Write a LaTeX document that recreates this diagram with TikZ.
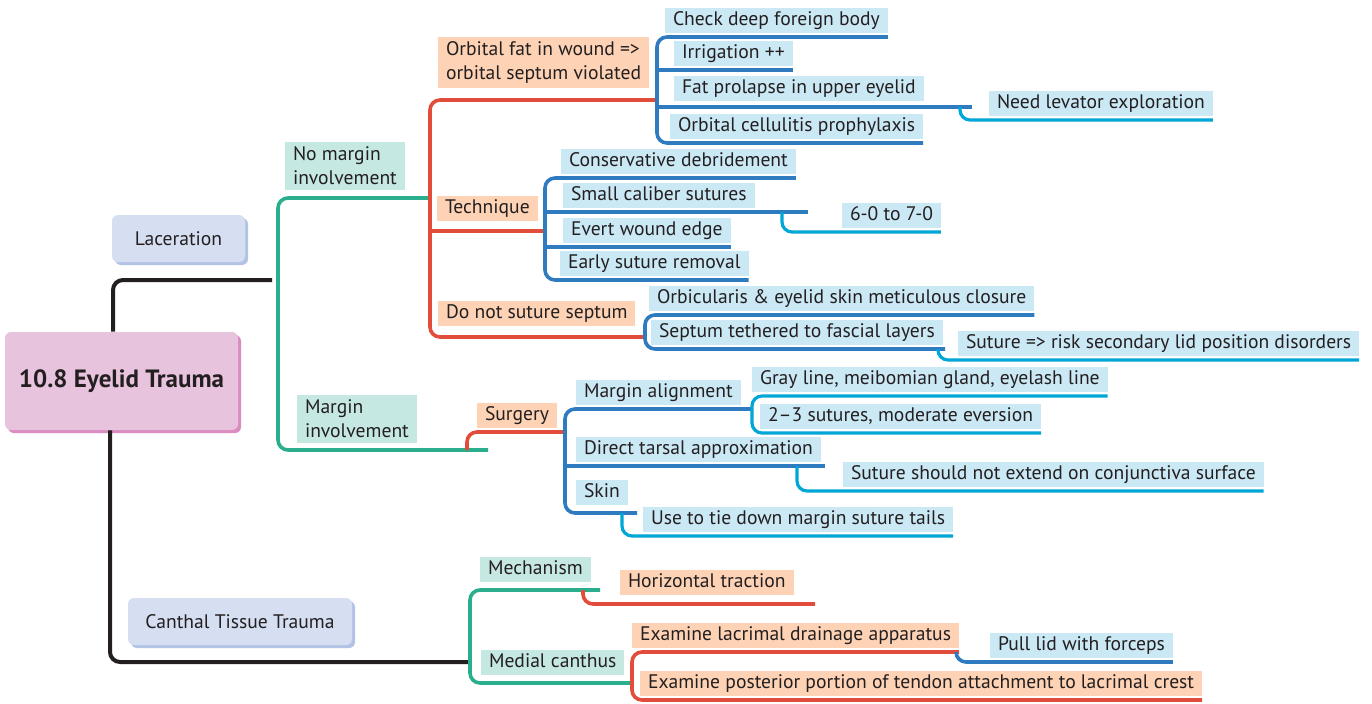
\documentclass[tikz,border=0pt]{standalone}
\usepackage{fontspec}
\setmainfont{PT Sans}
\usetikzlibrary{shadows}
\definecolor{ink}{HTML}{231F20}
\definecolor{grn}{HTML}{2BAE8D}
\definecolor{rdl}{HTML}{E14D3A}
\definecolor{blu}{HTML}{2F7BC0}
\definecolor{cyn}{HTML}{00A6D6}
\definecolor{fillb}{HTML}{CBE8F5}
\definecolor{fillp}{HTML}{FDD2B5}
\definecolor{fillt}{HTML}{C6E8E3}
\definecolor{rootf}{HTML}{E8C3DD}
\definecolor{rootsh}{HTML}{DA8CC0}
\definecolor{lavf}{HTML}{D6DFF1}
\definecolor{lavsh}{HTML}{B2C3E5}
\begin{document}
\begin{tikzpicture}[x=0.5pt,y=-0.5pt,font=\fontsize{9.8}{12}\selectfont,text=ink,
  lbl/.style={anchor=south west,inner xsep=4pt,inner ysep=1.25pt,outer xsep=0pt,outer ysep=2pt,text height=7.5pt,text depth=2.5pt},
  twoline/.style={anchor=south west,inner xsep=4pt,inner ysep=2.4pt,outer xsep=0pt,outer ysep=2pt,align=left},
  lb/.style={lbl,fill=fillb},
  lp/.style={lbl,fill=fillp},
  lt/.style={lbl,fill=fillt},
  topbox/.style={fill=lavf,rounded corners=3pt,minimum height=23.5pt,
    drop shadow={shadow xshift=1.5pt,shadow yshift=-1.5pt,fill=lavsh,opacity=1}},
  bk/.style={draw=ink,line width=2pt,rounded corners=5pt},
  gn/.style={draw=grn,line width=1.8pt,rounded corners=5pt},
  rd/.style={draw=rdl,line width=1.8pt,rounded corners=5pt},
  bl/.style={draw=blu,line width=1.8pt,rounded corners=5pt},
  cy/.style={draw=cyn,line width=1.6pt,rounded corners=5pt}]
  \useasboundingbox (0,0) rectangle (1372,703);

  % main topic and first level
  \node[fill=rootf,rounded corners=3pt,minimum width=116.5pt,minimum height=49pt,
    font=\fontsize{12.5}{14}\selectfont\bfseries,
    drop shadow={shadow xshift=1.5pt,shadow yshift=-1.5pt,fill=rootsh,opacity=1}]
    (root) at (121.5,381) {10.8 Eyelid Trauma};
  \node[topbox,minimum width=66.5pt] (lac) at (178.5,238.5) {Laceration};
  \node[topbox,minimum width=112pt] (cth) at (240,621.5) {Canthal Tissue Trauma};

  % second level
  \node[twoline,fill=fillt] (nomarg) at (285,194) {No margin\\involvement};
  \node[twoline,fill=fillt] (marg) at (297,447) {Margin\\involvement};
  \node[lt] (mech) at (480,586) {Mechanism};
  \node[lt] (medc) at (481,679) {Medial canthus};

  % third level
  \node[twoline,fill=fillp] (ofw) at (438,92) {Orbital fat in wound =>\\orbital septum violated};
  \node[lp] (tech) at (437,225) {Technique};
  \node[lp] (dnss) at (438,330) {Do not suture septum};
  \node[lp] (surg) at (477,432) {Surgery};
  \node[lp] (htr) at (620,599) {Horizontal traction};
  \node[lp] (elda) at (632,652) {Examine lacrimal drainage apparatus};
  \node[lp] (eppt) at (640,700) {Examine posterior portion of tendon attachment to lacrimal crest};

  % fourth level
  \node[lb] (cdfb) at (665,37) {Check deep foreign body\hspace{5pt}};
  \node[lb] (irr) at (674,70) {Irrigation ++};
  \node[lb] (fpue) at (674,105) {Fat prolapse in upper eyelid};
  \node[lb] (ocp) at (670,143) {Orbital cellulitis prophylaxis};
  \node[lb] (cdeb) at (561,178) {Conservative debridement};
  \node[lb] (scs) at (563,212) {Small caliber sutures};
  \node[lb] (ewe) at (563,247) {Evert wound edge};
  \node[lb] (esr) at (560,280) {Early suture removal};
  \node[lb] (oesm) at (649,315) {Orbicularis \& eyelid skin meticulous closure~};
  \node[lb] (sttf) at (651,349) {Septum tethered to fascial layers};
  \node[lb] (malg) at (576,409) {Margin alignment};
  \node[lb] (dta) at (576,466) {Direct tarsal approximation};
  \node[lb] (skin) at (576,509) {Skin};
  \node[lb] (plwf) at (990,662) {Pull lid with forceps};

  % fifth level
  \node[lb] (nle) at (989,120) {Need levator exploration};
  \node[lb] (six) at (842,232) {6-0 to 7-0};
  \node[lb] (sr) at (958,360) {Suture => risk secondary lid position disorders};
  \node[lb] (glm) at (752,396) {Gray line, meibomian gland, eyelash line~};
  \node[lb] (tts) at (760,433) {2--3 sutures, moderate eversion~};
  \node[lb] (ssne) at (843,491) {Suture should not extend on conjunctiva surface};
  \node[lb] (utd) at (643,536) {Use to tie down margin suture tails};

  % junctions
  \coordinate (lac-e) at (272,280);
  \coordinate (lac-j) at (278,280);
  \coordinate (cth-e) at (470,662);
  \coordinate (nomarg-j) at (430,198);
  \coordinate (marg-e) at (488,450);
  \coordinate (marg-j) at (467,450);
  \coordinate (mech-e) at (600,590);
  \coordinate (mech-j) at (583,590);
  \coordinate (medc-j) at (632,683);
  \coordinate (ofw-j) at (657,100);
  \coordinate (tech-j) at (545,231);
  \coordinate (dnss-j) at (645,337);
  \coordinate (surg-j) at (565,432);
  \coordinate (htr-e) at (815,604);
  \coordinate (fpue-e) at (972,107);
  \coordinate (nle-j) at (960,107);
  \coordinate (scs-e) at (808,212);
  \coordinate (six-j) at (782,212);
  \coordinate (sttf-e) at (945,349);
  \coordinate (sr-j) at (938,349);
  \coordinate (malg-e) at (752,409);
  \coordinate (dta-e) at (825,466);
  \coordinate (ssne-j) at (797,466);
  \coordinate (skin-e) at (637,513);
  \coordinate (utd-j) at (622,513);
  \coordinate (elda-j) at ([xshift=-1.5pt]elda.south east);

  % branches
  \draw[bk] ([xshift=-4.25pt]root.north) |- (lac-e);
  \draw[bk] ([xshift=-5.75pt]root.south) |- (cth-e);

  \draw[gn] (lac-j) |- (nomarg-j);
  \draw[gn] (lac-j) |- (marg-e);
  \draw[gn] (cth-e) |- (mech-e);
  \draw[gn] (cth-e) |- (medc-j);

  \draw[rd] (nomarg-j) |- (ofw-j);
  \draw[rd] (nomarg-j) |- (dnss-j);
  \draw[rd] (nomarg-j |- tech-j) -- (tech-j);
  \draw[rd] (marg-j) |- (surg-j);
  \draw[rd] (mech-j) |- (htr-e);
  \draw[rd] (medc-j) |- (elda.south east);
  \draw[rd] (medc-j) |- (eppt.south east);

  \draw[bl] (ofw-j) |- (cdfb.south east);
  \draw[bl] (ofw-j) |- (ocp.south east);
  \draw[bl] (ofw-j |- irr.south east) -- (irr.south east);
  \draw[bl] (ofw-j |- fpue-e) -- (fpue-e);
  \draw[bl] (tech-j) |- (cdeb.south east);
  \draw[bl] (tech-j) |- (esr.south east);
  \draw[bl] (tech-j |- scs-e) -- (scs-e);
  \draw[bl] (tech-j |- ewe.south east) -- (ewe.south east);
  \draw[bl] (dnss-j) |- (oesm.south east);
  \draw[bl] (dnss-j) |- (sttf-e);
  \draw[bl] (surg-j) |- (malg-e);
  \draw[bl] (surg-j) |- (skin-e);
  \draw[bl] (surg-j |- dta-e) -- (dta-e);
  \draw[bl] (elda-j) |- (plwf.south east);

  \draw[cy] (nle-j) |- (nle.south east);
  \draw[cy] (six-j) |- (six.south east);
  \draw[cy] (sr-j) |- (sr.south east);
  \draw[cy] (malg-e) |- (glm.south east);
  \draw[cy] (malg-e) |- (tts.south east);
  \draw[cy] (ssne-j) |- (ssne.south east);
  \draw[cy] (utd-j) |- (utd.south east);
\end{tikzpicture}
\end{document}
